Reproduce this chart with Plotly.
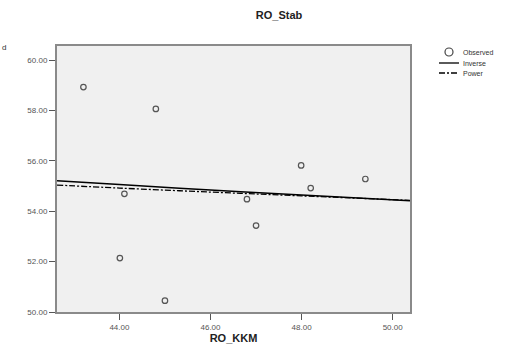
import plotly.graph_objects as go

# Observed data (RO_KKM vs RO_Stab)
ro_kkm = [43.21, 44.80, 44.11, 44.01, 45.00, 46.80, 47.00, 47.99, 48.20, 49.40]
ro_stab = [58.93, 58.06, 54.69, 52.14, 50.45, 54.48, 53.43, 55.82, 54.92, 55.28]

# Fitted curves
fit_x = [42.63, 44.0, 46.0, 48.0, 50.38]
inverse_y = [55.21, 55.06, 54.84, 54.64, 54.42]
power_y = [55.04, 54.92, 54.76, 54.61, 54.43]

x_ticks = [44, 46, 48, 50]
y_ticks = [50, 52, 54, 56, 58, 60]

legend_labels = ["Observed", "Inverse", "Power"]

FONT = "Liberation Sans, Arial, sans-serif"
W, H = 505, 347
L, R, T, B = 57, 95, 46, 35
PW, PH = W - L - R, H - T - B


def px(x):
    return (x - L) / PW


def py(y):
    return (H - B - y) / PH


fig = go.Figure()
fig.add_trace(go.Scatter(
    x=ro_kkm, y=ro_stab, mode="markers", name=legend_labels[0],
    marker=dict(symbol="circle-open", size=5.5, color="#555555", line=dict(width=1.2, color="#555555")),
))
fig.add_trace(go.Scatter(
    x=fit_x, y=inverse_y, mode="lines", name=legend_labels[1], line_shape="spline",
    line=dict(color="black", width=1.5),
))
fig.add_trace(go.Scatter(
    x=fit_x, y=power_y, mode="lines", name=legend_labels[2], line_shape="spline",
    line=dict(color="black", width=1.3, dash="6px,2px,2px,2px"),
))

axis_common = dict(
    showgrid=False, zeroline=False, showline=True, mirror=True,
    linecolor="#8a8a8a", linewidth=2, ticks="outside", ticklen=6,
    tickcolor="#555555", tickwidth=1, automargin=False,
    tickfont=dict(family=FONT, size=8, color="#555555"),
)

fig.update_layout(
    width=W, height=H,
    margin=dict(l=L, r=R, t=T, b=B, autoexpand=False),
    paper_bgcolor="white", plot_bgcolor="#f0f0f0",
    title=dict(text="<b>RO_Stab</b>", x=279 / W, xanchor="center", y=1 - 15 / H, yanchor="middle",
               xref="container", yref="container",
               font=dict(family=FONT, size=11, color="#222222")),
    xaxis=dict(range=[42.63, 50.38], tickvals=x_ticks,
               ticktext=[f"{v:.2f}" for v in x_ticks],
               title=dict(text="<b>RO_KKM</b>", font=dict(family=FONT, size=11, color="#222222"), standoff=4),
               **axis_common),
    yaxis=dict(range=[50, 60.56], tickvals=y_ticks,
               ticktext=[f"{v:.2f}" for v in y_ticks], **axis_common),
    showlegend=False,
)

# Manual legend (drawn in pixel positions, outside the plot area)
fig.add_shape(type="circle", xref="paper", yref="paper",
              xsizemode="pixel", ysizemode="pixel",
              xanchor=px(449), yanchor=py(52), x0=-4, x1=4, y0=-4, y1=4,
              line=dict(color="#444444", width=1.2))
fig.add_shape(type="line", xref="paper", yref="paper",
              x0=px(439), x1=px(459), y0=py(63), y1=py(63),
              line=dict(color="black", width=1.3))
fig.add_shape(type="line", xref="paper", yref="paper",
              x0=px(439), x1=px(459), y0=py(73), y1=py(73),
              line=dict(color="black", width=1.3, dash="6px,2px,2px,2px"))
for label, yy in zip(legend_labels, [52, 63, 73]):
    fig.add_annotation(text=label, x=px(461), y=py(yy), xref="paper", yref="paper",
                       xanchor="left", yanchor="middle", showarrow=False,
                       font=dict(family=FONT, size=7, color="#333333"))

fig.add_annotation(text="d", x=px(0), y=py(47), xref="paper", yref="paper",
                   xanchor="left", yanchor="middle", showarrow=False,
                   font=dict(family=FONT, size=8, color="#333333"))

fig.write_html(
    "out.html",
    config={"displayModeBar": False},
    post_script="document.body.style.margin='0';document.body.style.overflow='hidden';",
)
